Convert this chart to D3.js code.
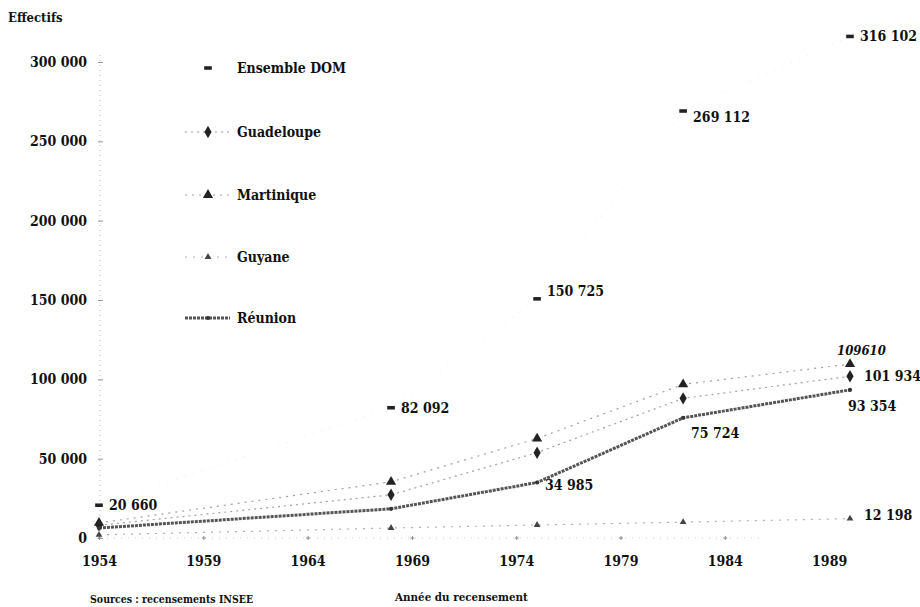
<!DOCTYPE html>
<html><head><meta charset="utf-8">
<script src="https://cdn.jsdelivr.net/npm/d3@7"></script>
<style>
body{margin:0;background:#fff;}
text{font-family:"DejaVu Serif Condensed","DejaVu Serif",serif;font-weight:bold;fill:#111;}
</style></head>
<body><svg id="c" width="920" height="607"></svg>
<script>
// ---- data ----
const years = [1954, 1968, 1975, 1982, 1990];
const ensembleDOM = [20660, 82092, 150725, 269112, 316102];
const guadeloupe = [8000, 27200, 53800, 88000, 101934];
const martinique = [9500, 35400, 62700, 96800, 109610];
const guyane = [2000, 6300, 8200, 10000, 12198];
const reunion = [6300, 18400, 34985, 75724, 93354];
const xTickYears = [1954, 1959, 1964, 1969, 1974, 1979, 1984, 1989];
const yTickValues = [0, 50000, 100000, 150000, 200000, 250000, 300000];
const ensembleLabels = ["20 660", "82 092", "150 725", "269 112", "316 102"];
const reunionLabels = [null, null, "34 985", "75 724", "93 354"];
const legendNames = ["Ensemble DOM", "Guadeloupe", "Martinique", "Guyane", "Réunion"];

const FONT = '"DejaVu Serif Condensed","DejaVu Serif",serif';
const svg = d3.select("#c");
const x = d3.scaleLinear().domain([1954, 1990]).range([99, 850]);
const y = d3.scaleLinear().domain([0, 300000]).range([538, 62]);
const fmt = v => d3.format(",")(v).replace(/,/g, " ");

// y axis (dotted)
svg.append("line").attr("x1", 100).attr("x2", 100).attr("y1", 55).attr("y2", 538)
  .attr("stroke", "#bbb").attr("stroke-dasharray", "1,4");
const yAxis = d3.axisLeft(y).tickValues(yTickValues).tickFormat(fmt).tickSize(-4).tickPadding(13);
const ga = svg.append("g").attr("transform", "translate(100,0)").call(yAxis);
ga.select(".domain").remove();
ga.selectAll(".tick line").attr("stroke", "#999").attr("x1", -2).attr("x2", 3);
ga.selectAll(".tick text").attr("font-size", 14).attr("font-family", FONT).attr("font-weight", "bold").attr("fill", "#111");

// x axis
svg.append("line").attr("x1", 100).attr("x2", 760).attr("y1", 538).attr("y2", 538)
  .attr("stroke", "#ccc").attr("stroke-dasharray", "1,6");
const xAxis = d3.axisBottom(x).tickValues(xTickYears).tickFormat(d3.format("d")).tickSize(0).tickPadding(18);
const gx = svg.append("g").attr("transform", "translate(0,538)").call(xAxis);
gx.select(".domain").remove();
gx.selectAll(".tick text").attr("font-size", 14).attr("font-family", FONT).attr("font-weight", "bold").attr("fill", "#111");
gx.selectAll(".tick").filter(d => d < 1988).append("path").attr("d", "M-2,0H2M0,-2V2").attr("stroke", "#888");

svg.append("text").attr("x", 8).attr("y", 22).attr("font-size", 13).text("Effectifs");
svg.append("text").attr("x", 90).attr("y", 603).attr("font-size", 10.5).attr("font-weight", "normal").text("Sources : recensements INSEE");
svg.append("text").attr("x", 395).attr("y", 601).attr("font-size", 11.5).attr("font-weight", "normal").text("Année du recensement");

const series = [
  {name: legendNames[0], vals: ensembleDOM, stroke: "#ececec", w: 1, dash: "1,8", sym: d3.symbolSquare, size: 26, mfill: "#222", rect: true},
  {name: legendNames[1], vals: guadeloupe, stroke: "#a0a0a0", w: 1.2, dash: "2,4", sym: d3.symbolDiamond, size: 45, mfill: "#222"},
  {name: legendNames[2], vals: martinique, stroke: "#a0a0a0", w: 1.2, dash: "2,5", sym: d3.symbolTriangle, size: 45, mfill: "#222"},
  {name: legendNames[3], vals: guyane, stroke: "#b0b0b0", w: 1.2, dash: "2,6", sym: d3.symbolTriangle, size: 20, mfill: "#444"},
  {name: legendNames[4], vals: reunion, stroke: "#555", w: 3, dash: "3,1", sym: d3.symbolCircle, size: 14, mfill: "#333"}
];

const line = d3.line().x((d, i) => x(years[i])).y(d => y(d));
series.forEach(s => {
  svg.append("path").datum(s.vals).attr("d", line).attr("fill", "none")
    .attr("stroke", s.stroke).attr("stroke-width", s.w).attr("stroke-dasharray", s.dash);
});
series.forEach(s => {
  svg.selectAll(null).data(s.vals).enter().append("path")
    .attr("transform", (d, i) => `translate(${x(years[i])},${y(d)})` + (s.rect ? " scale(1.5,0.7)" : ""))
    .attr("d", d3.symbol().type(s.sym).size(s.size)).attr("fill", s.mfill);
});

// data labels
svg.selectAll(null).data(ensembleDOM).enter().append("text")
  .attr("x", (d, i) => x(years[i]) + 10).attr("y", (d, i) => y(d) + (i === 2 ? -3 : i === 3 ? 11 : 5))
  .attr("font-size", 14).text((d, i) => ensembleLabels[i]);
reunion.forEach((v, i) => {
  if (!reunionLabels[i]) return;
  const dx = i === 4 ? -2 : 8, dy = i === 2 ? 8 : i === 3 ? 20 : 21;
  svg.append("text").attr("x", x(years[i]) + dx).attr("y", y(v) + dy)
    .attr("font-size", 14).text(reunionLabels[i]);
});
svg.append("text").attr("x", x(1990) - 13).attr("y", y(martinique[4]) - 9).attr("font-size", 13).attr("font-style", "italic").text(martinique[4]);
svg.append("text").attr("x", x(1990) + 14).attr("y", y(guadeloupe[4]) + 5).attr("font-size", 14).text(fmt(guadeloupe[4]));
svg.append("text").attr("x", x(1990) + 14).attr("y", y(guyane[4]) + 1).attr("font-size", 14).text(fmt(guyane[4]));

// legend
const lg = svg.append("g");
series.forEach((s, i) => {
  const ly = [68, 132, 195, 257, 318][i];
  if (!s.rect) {
    lg.append("line").attr("x1", 185).attr("x2", 230).attr("y1", ly).attr("y2", ly)
      .attr("stroke", s.stroke).attr("stroke-width", s.w).attr("stroke-dasharray", s.dash);
  }
  lg.append("path").attr("transform", `translate(208,${ly})` + (s.rect ? " scale(1.5,0.7)" : ""))
    .attr("d", d3.symbol().type(s.sym).size(s.size)).attr("fill", s.mfill);
  lg.append("text").attr("x", 237).attr("y", ly + 5).attr("font-size", 14).attr("font-weight", "normal").text(s.name);
});
</script></body></html>
